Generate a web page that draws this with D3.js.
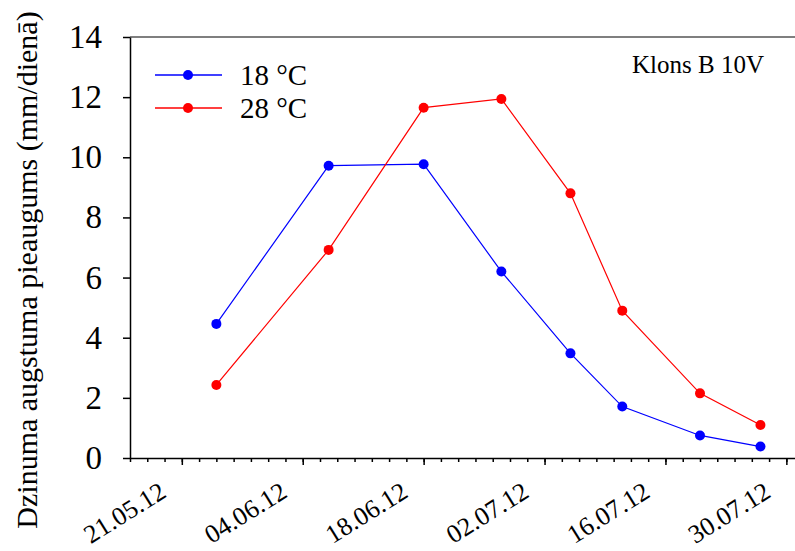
<!DOCTYPE html>
<html>
<head>
<meta charset="utf-8">
<script src="https://cdn.jsdelivr.net/npm/d3@7"></script>
<style>
  body { margin: 0; background: #fff; }
  svg { display: block; }
  svg text { font-family: "Liberation Serif", "Times New Roman", "DejaVu Serif", serif; }
</style>
</head>
<body>
<div id="chart"></div>
<script>
// measurement dates and daily shoot growth (mm/day)
const dates = ['2012-05-25', '2012-06-07', '2012-06-18', '2012-06-27', '2012-07-05', '2012-07-11', '2012-07-20', '2012-07-27'];
const growth18 = [4.46, 9.72, 9.77, 6.2, 3.48, 1.71, 0.75, 0.38];
const growth28 = [2.43, 6.92, 11.65, 11.94, 8.80, 4.90, 2.15, 1.10];
const seriesNames = ['18 °C', '28 °C'];
const seriesColors = ['#0000ff', '#ff0000'];
const yTicks = [0, 2, 4, 6, 8, 10, 12, 14];
const xLabelDates = ['2012-05-21', '2012-06-04', '2012-06-18', '2012-07-02', '2012-07-16', '2012-07-30'];

var width = 795, height = 551;
var margin = {top: 37, right: 0, bottom: 93, left: 130};
var serif = '"Liberation Serif", "Times New Roman", "DejaVu Serif", serif';

var parse = d3.utcParse('%Y-%m-%d');
var fmt = d3.utcFormat('%d.%m.%y');

var svg = d3.select('#chart')
  .append('svg')
  .attr('width', width)
  .attr('height', height);

var x = d3.scaleUtc()
  .domain([parse('2012-05-15'), parse('2012-07-31')])
  .range([margin.left, width - margin.right]);

var y = d3.scaleLinear()
  .domain([0, 14])
  .range([height - margin.bottom, margin.top]);

// top frame line
svg.append('line')
  .attr('x1', x.range()[0])
  .attr('x2', x.range()[1])
  .attr('y1', y(14))
  .attr('y2', y(14))
  .attr('stroke', '#555')
  .attr('stroke-width', 1.5);

// y axis
var yAxis = svg.append('g')
  .attr('transform', 'translate(' + margin.left + ',0)')
  .call(d3.axisLeft(y).tickValues(yTicks).tickSize(7).tickSizeOuter(0).tickPadding(21));
yAxis.attr('font-family', serif);
yAxis.selectAll('path, line').attr('stroke', '#000').attr('stroke-width', 1.5);
yAxis.selectAll('text')
  .attr('font-size', 33)
  .attr('fill', '#000');

// x axis, minor ticks every 2 days
var minorTicks = d3.utcDay.range(x.domain()[0], x.domain()[1], 2);
var xAxis = svg.append('g')
  .attr('transform', 'translate(0,' + y(0) + ')')
  .call(d3.axisBottom(x).tickValues(minorTicks).tickSize(4).tickSizeOuter(0).tickFormat(''));
xAxis.selectAll('path, line').attr('stroke', '#000').attr('stroke-width', 1.5);

var majorTicks = xLabelDates.map(parse);
var xMajor = svg.append('g')
  .attr('transform', 'translate(0,' + y(0) + ')')
  .call(d3.axisBottom(x).tickValues(majorTicks).tickSize(7).tickFormat(''));
xMajor.select('.domain').remove();
xMajor.selectAll('line').attr('stroke', '#000').attr('stroke-width', 1.5);

svg.append('g')
  .selectAll('text')
  .data(majorTicks)
  .enter()
  .append('text')
  .attr('transform', function (d) {
    return 'translate(' + (x(d) - 14) + ',' + (y(0) + 38) + ') rotate(-32)';
  })
  .attr('text-anchor', 'end')
  .attr('font-size', 26)
  .attr('fill', '#000')
  .text(function (d) { return fmt(d); });

// y axis title
svg.append('text')
  .attr('transform', 'translate(37,270) rotate(-90)')
  .attr('text-anchor', 'middle')
  .attr('font-size', 30)
  .attr('fill', '#000')
  .text('Dzinuma augstuma pieaugums (mm/dienā)');

// panel label
svg.append('text')
  .attr('x', 632)
  .attr('y', 73)
  .attr('font-size', 25)
  .attr('fill', '#000')
  .text('Klons B 10V');

// series
var series = [growth18, growth28].map(function (vals, i) {
  return {
    name: seriesNames[i],
    color: seriesColors[i],
    points: vals.map(function (v, j) { return {date: parse(dates[j]), value: v}; })
  };
});

var line = d3.line()
  .x(function (d) { return x(d.date); })
  .y(function (d) { return y(d.value); });

var sg = svg.selectAll('.series')
  .data(series)
  .enter()
  .append('g')
  .attr('class', 'series');

sg.append('path')
  .attr('d', function (d) { return line(d.points); })
  .attr('fill', 'none')
  .attr('stroke', function (d) { return d.color; })
  .attr('stroke-width', 1.2);

sg.selectAll('circle')
  .data(function (d) { return d.points.map(function (p) { return {p: p, color: d.color}; }); })
  .enter()
  .append('circle')
  .attr('cx', function (d) { return x(d.p.date); })
  .attr('cy', function (d) { return y(d.p.value); })
  .attr('r', 5)
  .attr('fill', function (d) { return d.color; });

// legend
var legend = svg.append('g')
  .selectAll('g')
  .data(series)
  .enter()
  .append('g')
  .attr('transform', function (d, i) { return 'translate(155,' + (75 + i * 33) + ')'; });

legend.append('line')
  .attr('x1', 0)
  .attr('x2', 67)
  .attr('stroke', function (d) { return d.color; })
  .attr('stroke-width', 1.5);

legend.append('circle')
  .attr('cx', 33)
  .attr('r', 5)
  .attr('fill', function (d) { return d.color; });

legend.append('text')
  .attr('x', 85)
  .attr('dy', '0.35em')
  .attr('font-size', 29)
  .attr('fill', '#000')
  .text(function (d) { return d.name; });
</script>
</body>
</html>
